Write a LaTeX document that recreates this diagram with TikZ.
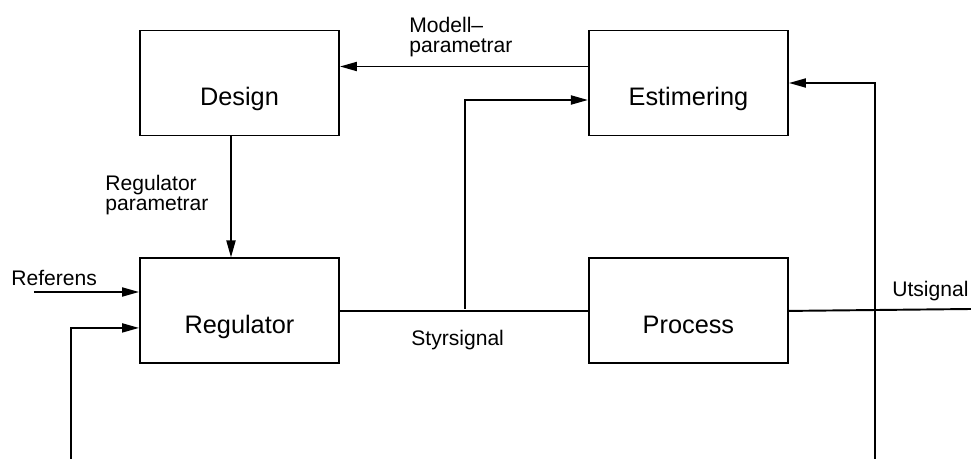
\documentclass[tikz,border=0pt]{standalone}
\usepackage{fontspec}
\setmainfont{Liberation Sans}
\usepackage{tikz}
\usetikzlibrary{positioning}
\usetikzlibrary{arrows.meta}

\begin{document}
\begin{tikzpicture}[
    block/.style={
        rectangle,
        draw=black,
        line width=1.1pt,
        minimum width=3.98cm,
        minimum height=2.1cm,
        text height=1cm,
        text depth=0.1cm,
        font=\fontsize{14.4}{15}\selectfont
    },
    signal/.style={
        -{Triangle[length=3.4mm,width=1.8mm]},
        line width=1.1pt
    },
    wire/.style={
        line width=1.1pt
    },
    lbl/.style={
        inner sep=0pt,
        align=left,
        font=\fontsize{12}{11.5}\selectfont
    }
]

\useasboundingbox (0,0) rectangle (19.42,9.18);

\node[block] (design) at (4.79,7.52) {Design};
\node[block] (estim) [right=4.96cm of design] {Estimering};
\node[block] (regulator) [below=2.42cm of design] {Regulator};
\node[block] (process) [right=4.96cm of regulator] {Process};

\coordinate (ref) at (0.68,3.34);
\coordinate (grena) at (9.3,3.0);
\coordinate (ut) at (19.42,3.0);
\coordinate (aterL) at (1.42,0);
\coordinate (aterR) at (17.5,0);

\draw[signal] ([yshift=0.33cm]estim.west) -- ([yshift=0.33cm]design.east);
\draw[signal] ([xshift=-0.17cm]design.south) -- ([xshift=-0.17cm]regulator.north);
\draw[signal] (ref) -- (regulator.west |- ref);
\draw[signal] (aterL) |- ([yshift=-0.34cm]regulator.west);
\draw[wire] (regulator.east) -- (process.west);
\draw[signal] (grena) |- ([yshift=-0.34cm]estim.west);
\draw[wire] (process.east) -- (ut);
\draw[signal] (aterR) |- (estim.east);

\node[lbl, anchor=north west] (modell) at (8.18,8.84) {Modell--\\parametrar};
\node[lbl, anchor=north west] (regpar) at (2.1,5.68) {Regulator\\parametrar};
\node[lbl, anchor=base west] (referens) at (0.22,3.47) {Referens};
\node[lbl, anchor=base west] (styr) at (8.22,2.26) {Styrsignal};
\node[lbl, anchor=base west] (utsig) at (17.84,3.24) {Utsignal};

\end{tikzpicture}
\end{document}
